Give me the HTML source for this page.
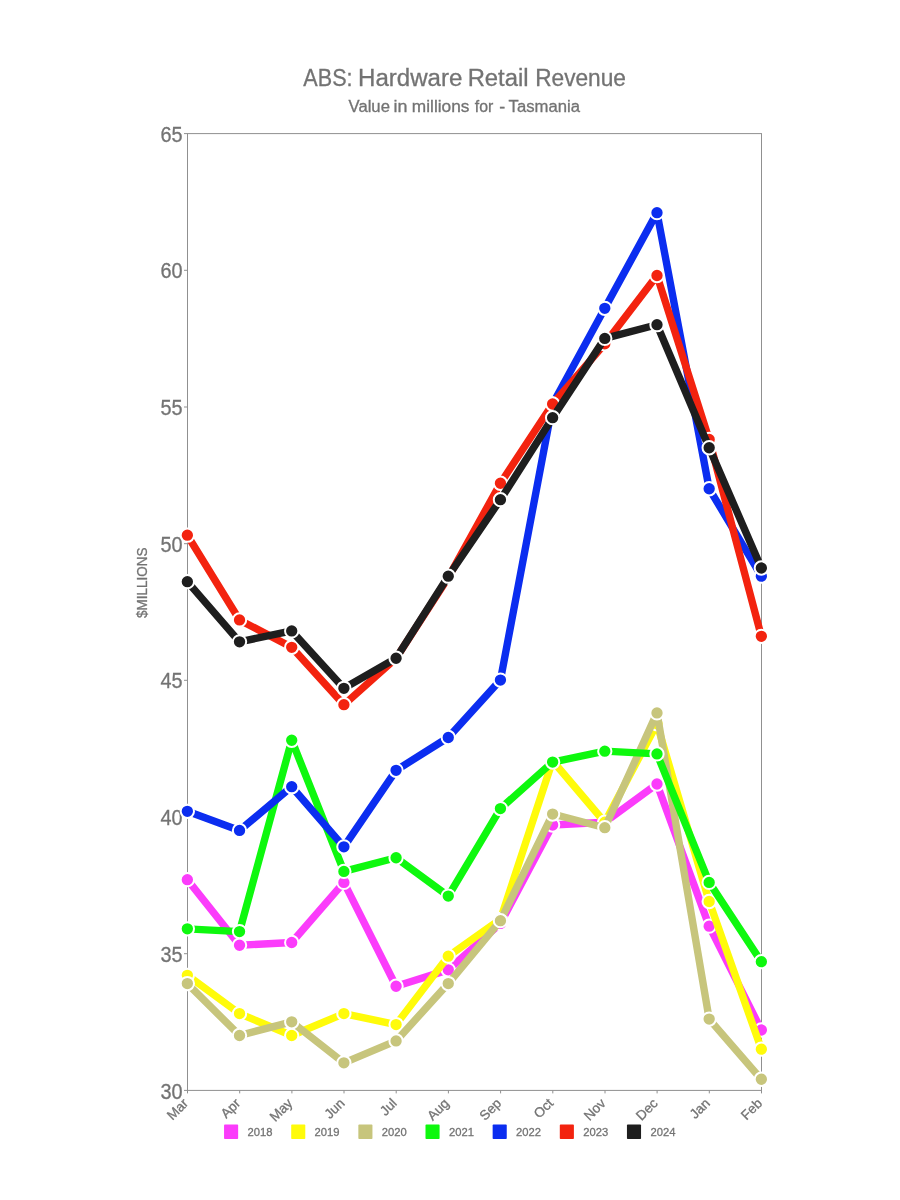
<!DOCTYPE html>
<html lang="en"><head><meta charset="utf-8"><title>ABS: Hardware Retail Revenue</title>
<style>html,body{margin:0;padding:0;background:#fff}svg{display:block}text{font-family:"Liberation Sans",sans-serif;fill:#737373;stroke:#737373;stroke-width:0.3px}</style>
</head><body>
<svg width="900" height="1200" viewBox="0 0 900 1200">
<rect width="900" height="1200" fill="#ffffff"/>
<text y="85.7" font-size="23" lengthAdjust="spacingAndGlyphs"><tspan x="303.36" textLength="49.20" lengthAdjust="spacingAndGlyphs">ABS:</tspan> <tspan x="358.02" textLength="104.44" lengthAdjust="spacingAndGlyphs">Hardware</tspan> <tspan x="467.65" textLength="60.94" lengthAdjust="spacingAndGlyphs">Retail</tspan> <tspan x="535.14" textLength="90.86" lengthAdjust="spacingAndGlyphs">Revenue</tspan></text>
<text y="111.5" font-size="15.8" lengthAdjust="spacingAndGlyphs"><tspan x="348.53" textLength="41.41" lengthAdjust="spacingAndGlyphs">Value</tspan> <tspan x="393.62" textLength="13.93" lengthAdjust="spacingAndGlyphs">in</tspan> <tspan x="411.86" textLength="57.56" lengthAdjust="spacingAndGlyphs">millions</tspan> <tspan x="474.78" textLength="18.47" lengthAdjust="spacingAndGlyphs">for</tspan> <tspan x="499.21" textLength="5.98" lengthAdjust="spacingAndGlyphs">-</tspan> <tspan x="508.63" textLength="71.35" lengthAdjust="spacingAndGlyphs">Tasmania</tspan></text>
<rect x="187.5" y="133.6" width="574.0" height="956.8" fill="none" stroke="#909090" stroke-width="1"/>
<line x1="184.0" y1="1090.4" x2="187.5" y2="1090.4" stroke="#909090" stroke-width="1"/>
<text x="182.6" y="1098.5" font-size="21.6" text-anchor="end" textLength="22.1" lengthAdjust="spacingAndGlyphs">30</text>
<line x1="184.0" y1="953.7" x2="187.5" y2="953.7" stroke="#909090" stroke-width="1"/>
<text x="182.6" y="961.8" font-size="21.6" text-anchor="end" textLength="22.1" lengthAdjust="spacingAndGlyphs">35</text>
<line x1="184.0" y1="817.0" x2="187.5" y2="817.0" stroke="#909090" stroke-width="1"/>
<text x="182.6" y="825.1" font-size="21.6" text-anchor="end" textLength="22.1" lengthAdjust="spacingAndGlyphs">40</text>
<line x1="184.0" y1="680.3" x2="187.5" y2="680.3" stroke="#909090" stroke-width="1"/>
<text x="182.6" y="688.4" font-size="21.6" text-anchor="end" textLength="22.1" lengthAdjust="spacingAndGlyphs">45</text>
<line x1="184.0" y1="543.7" x2="187.5" y2="543.7" stroke="#909090" stroke-width="1"/>
<text x="182.6" y="551.8" font-size="21.6" text-anchor="end" textLength="22.1" lengthAdjust="spacingAndGlyphs">50</text>
<line x1="184.0" y1="407.0" x2="187.5" y2="407.0" stroke="#909090" stroke-width="1"/>
<text x="182.6" y="415.1" font-size="21.6" text-anchor="end" textLength="22.1" lengthAdjust="spacingAndGlyphs">55</text>
<line x1="184.0" y1="270.3" x2="187.5" y2="270.3" stroke="#909090" stroke-width="1"/>
<text x="182.6" y="278.4" font-size="21.6" text-anchor="end" textLength="22.1" lengthAdjust="spacingAndGlyphs">60</text>
<line x1="184.0" y1="133.6" x2="187.5" y2="133.6" stroke="#909090" stroke-width="1"/>
<text x="182.6" y="141.7" font-size="21.6" text-anchor="end" textLength="22.1" lengthAdjust="spacingAndGlyphs">65</text>
<line x1="187.5" y1="1090.4" x2="187.5" y2="1093.4" stroke="#909090" stroke-width="1"/>
<text transform="translate(189.0,1104.1) rotate(-45)" font-size="13.6" text-anchor="end">Mar</text>
<line x1="239.7" y1="1090.4" x2="239.7" y2="1093.4" stroke="#909090" stroke-width="1"/>
<text transform="translate(241.2,1104.1) rotate(-45)" font-size="13.6" text-anchor="end">Apr</text>
<line x1="291.9" y1="1090.4" x2="291.9" y2="1093.4" stroke="#909090" stroke-width="1"/>
<text transform="translate(293.4,1104.1) rotate(-45)" font-size="13.6" text-anchor="end">May</text>
<line x1="344.0" y1="1090.4" x2="344.0" y2="1093.4" stroke="#909090" stroke-width="1"/>
<text transform="translate(345.5,1104.1) rotate(-45)" font-size="13.6" text-anchor="end">Jun</text>
<line x1="396.2" y1="1090.4" x2="396.2" y2="1093.4" stroke="#909090" stroke-width="1"/>
<text transform="translate(397.7,1104.1) rotate(-45)" font-size="13.6" text-anchor="end">Jul</text>
<line x1="448.4" y1="1090.4" x2="448.4" y2="1093.4" stroke="#909090" stroke-width="1"/>
<text transform="translate(449.9,1104.1) rotate(-45)" font-size="13.6" text-anchor="end">Aug</text>
<line x1="500.6" y1="1090.4" x2="500.6" y2="1093.4" stroke="#909090" stroke-width="1"/>
<text transform="translate(502.1,1104.1) rotate(-45)" font-size="13.6" text-anchor="end">Sep</text>
<line x1="552.8" y1="1090.4" x2="552.8" y2="1093.4" stroke="#909090" stroke-width="1"/>
<text transform="translate(554.3,1104.1) rotate(-45)" font-size="13.6" text-anchor="end">Oct</text>
<line x1="605.0" y1="1090.4" x2="605.0" y2="1093.4" stroke="#909090" stroke-width="1"/>
<text transform="translate(606.5,1104.1) rotate(-45)" font-size="13.6" text-anchor="end">Nov</text>
<line x1="657.1" y1="1090.4" x2="657.1" y2="1093.4" stroke="#909090" stroke-width="1"/>
<text transform="translate(658.6,1104.1) rotate(-45)" font-size="13.6" text-anchor="end">Dec</text>
<line x1="709.3" y1="1090.4" x2="709.3" y2="1093.4" stroke="#909090" stroke-width="1"/>
<text transform="translate(710.8,1104.1) rotate(-45)" font-size="13.6" text-anchor="end">Jan</text>
<line x1="761.5" y1="1090.4" x2="761.5" y2="1093.4" stroke="#909090" stroke-width="1"/>
<text transform="translate(763.0,1104.1) rotate(-45)" font-size="13.6" text-anchor="end">Feb</text>
<text transform="translate(147.4,582.8) rotate(-90)" font-size="15" text-anchor="middle" textLength="70.5" lengthAdjust="spacingAndGlyphs">$MILLIONS</text>
<g>
<polyline points="187.35,879.65 239.53,945.26 291.71,942.53 343.90,882.39 396.08,986.27 448.26,969.87 500.44,923.39 552.62,824.98 604.80,822.25 656.99,783.97 709.17,926.13 761.35,1030.01" fill="none" stroke="#fb3cfb" stroke-width="7.4" stroke-linejoin="round"/>
<circle cx="187.35" cy="879.65" r="6.66" fill="#fb3cfb" stroke="#ffffff" stroke-width="2.0"/>
<circle cx="239.53" cy="945.26" r="6.66" fill="#fb3cfb" stroke="#ffffff" stroke-width="2.0"/>
<circle cx="291.71" cy="942.53" r="6.66" fill="#fb3cfb" stroke="#ffffff" stroke-width="2.0"/>
<circle cx="343.90" cy="882.39" r="6.66" fill="#fb3cfb" stroke="#ffffff" stroke-width="2.0"/>
<circle cx="396.08" cy="986.27" r="6.66" fill="#fb3cfb" stroke="#ffffff" stroke-width="2.0"/>
<circle cx="448.26" cy="969.87" r="6.66" fill="#fb3cfb" stroke="#ffffff" stroke-width="2.0"/>
<circle cx="500.44" cy="923.39" r="6.66" fill="#fb3cfb" stroke="#ffffff" stroke-width="2.0"/>
<circle cx="552.62" cy="824.98" r="6.66" fill="#fb3cfb" stroke="#ffffff" stroke-width="2.0"/>
<circle cx="604.80" cy="822.25" r="6.66" fill="#fb3cfb" stroke="#ffffff" stroke-width="2.0"/>
<circle cx="656.99" cy="783.97" r="6.66" fill="#fb3cfb" stroke="#ffffff" stroke-width="2.0"/>
<circle cx="709.17" cy="926.13" r="6.66" fill="#fb3cfb" stroke="#ffffff" stroke-width="2.0"/>
<circle cx="761.35" cy="1030.01" r="6.66" fill="#fb3cfb" stroke="#ffffff" stroke-width="2.0"/>
</g>
<g>
<polyline points="187.35,975.33 239.53,1013.61 291.71,1035.48 343.90,1013.61 396.08,1024.54 448.26,956.20 500.44,919.29 552.62,760.74 604.80,822.25 656.99,723.83 709.17,901.52 761.35,1049.14" fill="none" stroke="#fffb0a" stroke-width="7.4" stroke-linejoin="round"/>
<circle cx="187.35" cy="975.33" r="6.66" fill="#fffb0a" stroke="#ffffff" stroke-width="2.0"/>
<circle cx="239.53" cy="1013.61" r="6.66" fill="#fffb0a" stroke="#ffffff" stroke-width="2.0"/>
<circle cx="291.71" cy="1035.48" r="6.66" fill="#fffb0a" stroke="#ffffff" stroke-width="2.0"/>
<circle cx="343.90" cy="1013.61" r="6.66" fill="#fffb0a" stroke="#ffffff" stroke-width="2.0"/>
<circle cx="396.08" cy="1024.54" r="6.66" fill="#fffb0a" stroke="#ffffff" stroke-width="2.0"/>
<circle cx="448.26" cy="956.20" r="6.66" fill="#fffb0a" stroke="#ffffff" stroke-width="2.0"/>
<circle cx="500.44" cy="919.29" r="6.66" fill="#fffb0a" stroke="#ffffff" stroke-width="2.0"/>
<circle cx="552.62" cy="760.74" r="6.66" fill="#fffb0a" stroke="#ffffff" stroke-width="2.0"/>
<circle cx="604.80" cy="822.25" r="6.66" fill="#fffb0a" stroke="#ffffff" stroke-width="2.0"/>
<circle cx="656.99" cy="723.83" r="6.66" fill="#fffb0a" stroke="#ffffff" stroke-width="2.0"/>
<circle cx="709.17" cy="901.52" r="6.66" fill="#fffb0a" stroke="#ffffff" stroke-width="2.0"/>
<circle cx="761.35" cy="1049.14" r="6.66" fill="#fffb0a" stroke="#ffffff" stroke-width="2.0"/>
</g>
<g>
<polyline points="187.35,983.54 239.53,1035.48 291.71,1021.81 343.90,1062.81 396.08,1040.94 448.26,983.54 500.44,920.66 552.62,814.04 604.80,827.71 656.99,712.90 709.17,1019.07 761.35,1079.22" fill="none" stroke="#c7c57c" stroke-width="7.4" stroke-linejoin="round"/>
<circle cx="187.35" cy="983.54" r="6.66" fill="#c7c57c" stroke="#ffffff" stroke-width="2.0"/>
<circle cx="239.53" cy="1035.48" r="6.66" fill="#c7c57c" stroke="#ffffff" stroke-width="2.0"/>
<circle cx="291.71" cy="1021.81" r="6.66" fill="#c7c57c" stroke="#ffffff" stroke-width="2.0"/>
<circle cx="343.90" cy="1062.81" r="6.66" fill="#c7c57c" stroke="#ffffff" stroke-width="2.0"/>
<circle cx="396.08" cy="1040.94" r="6.66" fill="#c7c57c" stroke="#ffffff" stroke-width="2.0"/>
<circle cx="448.26" cy="983.54" r="6.66" fill="#c7c57c" stroke="#ffffff" stroke-width="2.0"/>
<circle cx="500.44" cy="920.66" r="6.66" fill="#c7c57c" stroke="#ffffff" stroke-width="2.0"/>
<circle cx="552.62" cy="814.04" r="6.66" fill="#c7c57c" stroke="#ffffff" stroke-width="2.0"/>
<circle cx="604.80" cy="827.71" r="6.66" fill="#c7c57c" stroke="#ffffff" stroke-width="2.0"/>
<circle cx="656.99" cy="712.90" r="6.66" fill="#c7c57c" stroke="#ffffff" stroke-width="2.0"/>
<circle cx="709.17" cy="1019.07" r="6.66" fill="#c7c57c" stroke="#ffffff" stroke-width="2.0"/>
<circle cx="761.35" cy="1079.22" r="6.66" fill="#c7c57c" stroke="#ffffff" stroke-width="2.0"/>
</g>
<g>
<polyline points="187.35,928.86 239.53,931.59 291.71,740.23 343.90,871.45 396.08,857.78 448.26,896.06 500.44,808.58 552.62,762.10 604.80,751.17 656.99,753.90 709.17,882.39 761.35,961.67" fill="none" stroke="#0ef80e" stroke-width="7.4" stroke-linejoin="round"/>
<circle cx="187.35" cy="928.86" r="6.66" fill="#0ef80e" stroke="#ffffff" stroke-width="2.0"/>
<circle cx="239.53" cy="931.59" r="6.66" fill="#0ef80e" stroke="#ffffff" stroke-width="2.0"/>
<circle cx="291.71" cy="740.23" r="6.66" fill="#0ef80e" stroke="#ffffff" stroke-width="2.0"/>
<circle cx="343.90" cy="871.45" r="6.66" fill="#0ef80e" stroke="#ffffff" stroke-width="2.0"/>
<circle cx="396.08" cy="857.78" r="6.66" fill="#0ef80e" stroke="#ffffff" stroke-width="2.0"/>
<circle cx="448.26" cy="896.06" r="6.66" fill="#0ef80e" stroke="#ffffff" stroke-width="2.0"/>
<circle cx="500.44" cy="808.58" r="6.66" fill="#0ef80e" stroke="#ffffff" stroke-width="2.0"/>
<circle cx="552.62" cy="762.10" r="6.66" fill="#0ef80e" stroke="#ffffff" stroke-width="2.0"/>
<circle cx="604.80" cy="751.17" r="6.66" fill="#0ef80e" stroke="#ffffff" stroke-width="2.0"/>
<circle cx="656.99" cy="753.90" r="6.66" fill="#0ef80e" stroke="#ffffff" stroke-width="2.0"/>
<circle cx="709.17" cy="882.39" r="6.66" fill="#0ef80e" stroke="#ffffff" stroke-width="2.0"/>
<circle cx="761.35" cy="961.67" r="6.66" fill="#0ef80e" stroke="#ffffff" stroke-width="2.0"/>
</g>
<g>
<polyline points="187.35,811.31 239.53,830.45 291.71,786.71 343.90,846.85 396.08,770.31 448.26,737.50 500.44,680.09 552.62,403.99 604.80,308.31 656.99,212.63 709.17,488.73 761.35,576.21" fill="none" stroke="#0b2df0" stroke-width="7.4" stroke-linejoin="round"/>
<circle cx="187.35" cy="811.31" r="6.66" fill="#0b2df0" stroke="#ffffff" stroke-width="2.0"/>
<circle cx="239.53" cy="830.45" r="6.66" fill="#0b2df0" stroke="#ffffff" stroke-width="2.0"/>
<circle cx="291.71" cy="786.71" r="6.66" fill="#0b2df0" stroke="#ffffff" stroke-width="2.0"/>
<circle cx="343.90" cy="846.85" r="6.66" fill="#0b2df0" stroke="#ffffff" stroke-width="2.0"/>
<circle cx="396.08" cy="770.31" r="6.66" fill="#0b2df0" stroke="#ffffff" stroke-width="2.0"/>
<circle cx="448.26" cy="737.50" r="6.66" fill="#0b2df0" stroke="#ffffff" stroke-width="2.0"/>
<circle cx="500.44" cy="680.09" r="6.66" fill="#0b2df0" stroke="#ffffff" stroke-width="2.0"/>
<circle cx="552.62" cy="403.99" r="6.66" fill="#0b2df0" stroke="#ffffff" stroke-width="2.0"/>
<circle cx="604.80" cy="308.31" r="6.66" fill="#0b2df0" stroke="#ffffff" stroke-width="2.0"/>
<circle cx="656.99" cy="212.63" r="6.66" fill="#0b2df0" stroke="#ffffff" stroke-width="2.0"/>
<circle cx="709.17" cy="488.73" r="6.66" fill="#0b2df0" stroke="#ffffff" stroke-width="2.0"/>
<circle cx="761.35" cy="576.21" r="6.66" fill="#0b2df0" stroke="#ffffff" stroke-width="2.0"/>
</g>
<g>
<polyline points="187.35,535.21 239.53,619.95 291.71,647.29 343.90,704.70 396.08,658.22 448.26,577.58 500.44,483.27 552.62,403.99 604.80,343.85 656.99,275.50 709.17,439.53 761.35,636.35" fill="none" stroke="#f3230f" stroke-width="7.4" stroke-linejoin="round"/>
<circle cx="187.35" cy="535.21" r="6.66" fill="#f3230f" stroke="#ffffff" stroke-width="2.0"/>
<circle cx="239.53" cy="619.95" r="6.66" fill="#f3230f" stroke="#ffffff" stroke-width="2.0"/>
<circle cx="291.71" cy="647.29" r="6.66" fill="#f3230f" stroke="#ffffff" stroke-width="2.0"/>
<circle cx="343.90" cy="704.70" r="6.66" fill="#f3230f" stroke="#ffffff" stroke-width="2.0"/>
<circle cx="396.08" cy="658.22" r="6.66" fill="#f3230f" stroke="#ffffff" stroke-width="2.0"/>
<circle cx="448.26" cy="577.58" r="6.66" fill="#f3230f" stroke="#ffffff" stroke-width="2.0"/>
<circle cx="500.44" cy="483.27" r="6.66" fill="#f3230f" stroke="#ffffff" stroke-width="2.0"/>
<circle cx="552.62" cy="403.99" r="6.66" fill="#f3230f" stroke="#ffffff" stroke-width="2.0"/>
<circle cx="604.80" cy="343.85" r="6.66" fill="#f3230f" stroke="#ffffff" stroke-width="2.0"/>
<circle cx="656.99" cy="275.50" r="6.66" fill="#f3230f" stroke="#ffffff" stroke-width="2.0"/>
<circle cx="709.17" cy="439.53" r="6.66" fill="#f3230f" stroke="#ffffff" stroke-width="2.0"/>
<circle cx="761.35" cy="636.35" r="6.66" fill="#f3230f" stroke="#ffffff" stroke-width="2.0"/>
</g>
<g>
<polyline points="187.35,581.68 239.53,641.82 291.71,630.89 343.90,688.29 396.08,658.22 448.26,576.21 500.44,499.67 552.62,417.66 604.80,338.38 656.99,324.71 709.17,447.73 761.35,568.01" fill="none" stroke="#1e1e1e" stroke-width="7.4" stroke-linejoin="round"/>
<circle cx="187.35" cy="581.68" r="6.66" fill="#1e1e1e" stroke="#ffffff" stroke-width="2.0"/>
<circle cx="239.53" cy="641.82" r="6.66" fill="#1e1e1e" stroke="#ffffff" stroke-width="2.0"/>
<circle cx="291.71" cy="630.89" r="6.66" fill="#1e1e1e" stroke="#ffffff" stroke-width="2.0"/>
<circle cx="343.90" cy="688.29" r="6.66" fill="#1e1e1e" stroke="#ffffff" stroke-width="2.0"/>
<circle cx="396.08" cy="658.22" r="6.66" fill="#1e1e1e" stroke="#ffffff" stroke-width="2.0"/>
<circle cx="448.26" cy="576.21" r="6.66" fill="#1e1e1e" stroke="#ffffff" stroke-width="2.0"/>
<circle cx="500.44" cy="499.67" r="6.66" fill="#1e1e1e" stroke="#ffffff" stroke-width="2.0"/>
<circle cx="552.62" cy="417.66" r="6.66" fill="#1e1e1e" stroke="#ffffff" stroke-width="2.0"/>
<circle cx="604.80" cy="338.38" r="6.66" fill="#1e1e1e" stroke="#ffffff" stroke-width="2.0"/>
<circle cx="656.99" cy="324.71" r="6.66" fill="#1e1e1e" stroke="#ffffff" stroke-width="2.0"/>
<circle cx="709.17" cy="447.73" r="6.66" fill="#1e1e1e" stroke="#ffffff" stroke-width="2.0"/>
<circle cx="761.35" cy="568.01" r="6.66" fill="#1e1e1e" stroke="#ffffff" stroke-width="2.0"/>
</g>
<rect x="224.05" y="1124.6" width="14.1" height="14.5" rx="0.8" fill="#fb3cfb"/>
<text x="247.5" y="1136.3" font-size="11.7" textLength="25" lengthAdjust="spacingAndGlyphs">2018</text>
<rect x="291.20" y="1124.6" width="14.1" height="14.5" rx="0.8" fill="#fffb0a"/>
<text x="314.6" y="1136.3" font-size="11.7" textLength="25" lengthAdjust="spacingAndGlyphs">2019</text>
<rect x="358.35" y="1124.6" width="14.1" height="14.5" rx="0.8" fill="#c7c57c"/>
<text x="381.8" y="1136.3" font-size="11.7" textLength="25" lengthAdjust="spacingAndGlyphs">2020</text>
<rect x="425.50" y="1124.6" width="14.1" height="14.5" rx="0.8" fill="#0ef80e"/>
<text x="448.9" y="1136.3" font-size="11.7" textLength="25" lengthAdjust="spacingAndGlyphs">2021</text>
<rect x="492.65" y="1124.6" width="14.1" height="14.5" rx="0.8" fill="#0b2df0"/>
<text x="516.1" y="1136.3" font-size="11.7" textLength="25" lengthAdjust="spacingAndGlyphs">2022</text>
<rect x="559.80" y="1124.6" width="14.1" height="14.5" rx="0.8" fill="#f3230f"/>
<text x="583.2" y="1136.3" font-size="11.7" textLength="25" lengthAdjust="spacingAndGlyphs">2023</text>
<rect x="626.95" y="1124.6" width="14.1" height="14.5" rx="0.8" fill="#1e1e1e"/>
<text x="650.4" y="1136.3" font-size="11.7" textLength="25" lengthAdjust="spacingAndGlyphs">2024</text>
</svg>
</body></html>
